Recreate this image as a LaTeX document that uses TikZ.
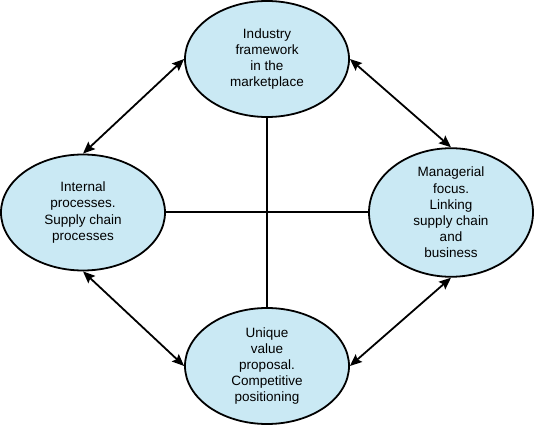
\documentclass[tikz,border=0pt]{standalone}
\usepackage{fontspec}
\setmainfont{Liberation Sans}
\usetikzlibrary{shapes.geometric,arrows.meta}
\definecolor{ellfill}{RGB}{202,233,244}
\tikzset{
  ell/.style={ellipse, draw=black, line width=1.8pt, fill=ellfill,
    minimum width=164pt, minimum height=116pt, inner sep=0pt,
    align=center, font=\fontsize{13.5}{16.2}\selectfont},
  link/.style={line width=2pt},
  biarrow/.style={line width=1.8pt, {Stealth[length=12pt,width=10pt,inset=2pt]}-{Stealth[length=12pt,width=10pt,inset=2pt]}}
}
\begin{document}
\begin{tikzpicture}[x=1pt,y=-1pt]
\useasboundingbox (0,0) rectangle (534,427);
\node[ell] (top) at (267,59) {Industry\\framework\\in the\\marketplace};
\node[ell] (left) at (83,212.5) {Internal\\processes.\\Supply chain\\processes};
\node[ell] (right) at (451,212.5) {Managerial\\focus.\\Linking\\supply chain\\and\\business};
\node[ell] (bottom) at (267,366) {Unique\\value\\proposal.\\Competitive\\positioning};
\draw[link] (top.south) -- (bottom.north);
\draw[link] (left.east) -- (right.west);
\draw[biarrow] (left.north) -- (top.west);
\draw[biarrow] (right.north) -- (top.east);
\draw[biarrow] (left.south) -- (bottom.west);
\draw[biarrow] (right.south) -- (bottom.east);
\end{tikzpicture}
\end{document}
